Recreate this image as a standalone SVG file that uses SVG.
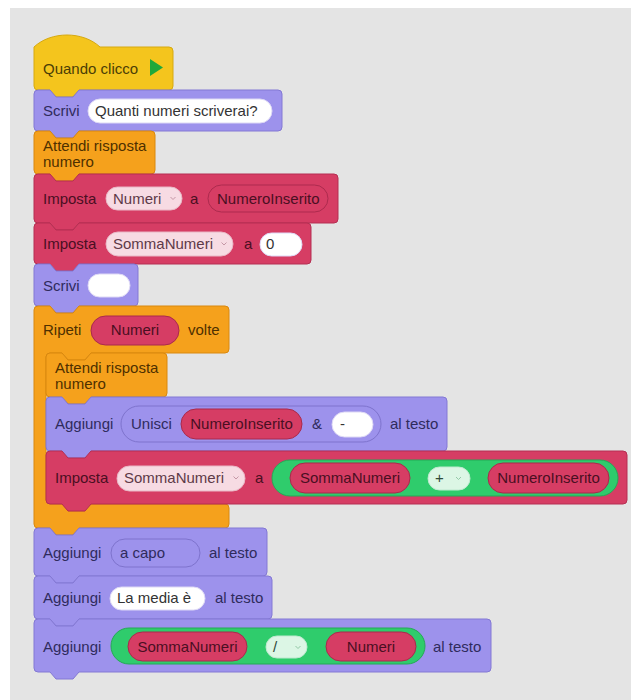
<svg xmlns="http://www.w3.org/2000/svg" width="631" height="700" viewBox="0 0 631 700">
  <style>
    text { font-family: "Liberation Sans", Arial, sans-serif; font-size: 15px; }
    .ev { fill: #f4c51d; stroke: #d6a910; stroke-width: 1; stroke-linejoin: round; }
    .lk { fill: #9d92ec; stroke: #8378d4; stroke-width: 1; stroke-linejoin: round; }
    .ct { fill: #f5a11c; stroke: #d9880e; stroke-width: 1; stroke-linejoin: round; }
    .vr { fill: #d63d64; stroke: #b52f52; stroke-width: 1; stroke-linejoin: round; }
    .op { fill: #2fcc6c; stroke: #25a956; stroke-width: 1; }
    .t-ev { fill: #4b3e06; }
    .t-lk { fill: #2f2b5c; }
    .t-ct { fill: #4e3000; }
    .t-vr { fill: #4a0f22; }
    .t-in { fill: #333333; }
    .t-dd { fill: #5e3a48; }
    .t-gd { fill: #2e4a38; }
    .inp { fill: #ffffff; stroke: #ddd8f5; stroke-width: 1; }
    .rep { fill: #d63d64; stroke: #a92a4c; stroke-width: 1; }
    .ring-lk { fill: #9d92ec; stroke: #7e73cd; stroke-width: 1; }
    .ring-vr { fill: #d63d64; stroke: #ad2b4e; stroke-width: 1; }
    .dd-vr { fill: #f7dbe3; stroke: #e9b7c5; stroke-width: 1; }
    .dd-op { fill: #dcf6e5; stroke: #bfe9cf; stroke-width: 1; }
    .chev-vr { fill: none; stroke: #c597a6; stroke-width: 1; }
    .chev-op { fill: none; stroke: #93c9a6; stroke-width: 1; }
  </style>

  <!-- workspace -->
  <rect x="10" y="8" width="621" height="692" fill="#e4e4e4"/>

  <!-- when flag clicked -->
  <g id="quando-clicco">
    <path class="ev" d="M34,47 C51,31 83,31 100,47 L169,47 Q173,47 173,51 L173,86 Q173,90 169,90 L79,90 L73,97 L56,97 L50,90 L38,90 Q34,90 34,86 Z"/>
    <text class="t-ev" x="43" y="74">Quando clicco</text>
    <path d="M150,59 L163,67.5 L150,76 Z" fill="#1fa83a"/>
  </g>

  <!-- say question -->
  <g id="scrivi-domanda">
    <path class="lk" d="M34,94 Q34,90 38,90 L50,90 L56,97 L73,97 L79,90 L278,90 Q282,90 282,94 L282,127 Q282,131 278,131 L79,131 L73,138 L56,138 L50,131 L38,131 Q34,131 34,127 Z"/>
    <text class="t-lk" x="43" y="116">Scrivi</text>
    <rect class="inp" x="88" y="99" width="184" height="24" rx="12"/>
    <text class="t-in" x="95" y="116">Quanti numeri scriverai?</text>
  </g>

  <!-- ask for number -->
  <g id="attendi-1">
    <path class="ct" d="M34,135 Q34,131 38,131 L50,131 L56,138 L73,138 L79,131 L151,131 Q155,131 155,135 L155,170 Q155,174 151,174 L79,174 L73,181 L56,181 L50,174 L38,174 Q34,174 34,170 Z"/>
    <text class="t-ct" x="43" y="151">Attendi risposta</text>
    <text class="t-ct" x="43" y="167">numero</text>
  </g>

  <!-- set Numeri -->
  <g id="imposta-numeri">
    <path class="vr" d="M34,178 Q34,174 38,174 L50,174 L56,181 L73,181 L79,174 L334,174 Q338,174 338,178 L338,219 Q338,223 334,223 L79,223 L73,230 L56,230 L50,223 L38,223 Q34,223 34,219 Z"/>
    <text class="t-vr" x="43" y="204">Imposta</text>
    <rect class="dd-vr" x="106" y="187" width="76" height="23" rx="11.5"/>
    <text class="t-dd" x="113" y="204">Numeri</text>
    <path class="chev-vr" d="M170.5,197 L173,199.5 L175.5,197"/>
    <text class="t-vr" x="190" y="204">a</text>
    <rect class="ring-vr" x="208" y="185" width="120" height="27" rx="13.5"/>
    <text class="t-vr" x="217" y="204">NumeroInserito</text>
  </g>

  <!-- set SommaNumeri to 0 -->
  <g id="imposta-somma-0">
    <path class="vr" d="M34,227 Q34,223 38,223 L50,223 L56,230 L73,230 L79,223 L307,223 Q311,223 311,227 L311,260 Q311,264 307,264 L79,264 L73,271 L56,271 L50,264 L38,264 Q34,264 34,260 Z"/>
    <text class="t-vr" x="43" y="249">Imposta</text>
    <rect class="dd-vr" x="106" y="232" width="127" height="24" rx="12"/>
    <text class="t-dd" x="113" y="249">SommaNumeri</text>
    <path class="chev-vr" d="M221.5,242.5 L224,245 L226.5,242.5"/>
    <text class="t-vr" x="244" y="249">a</text>
    <rect class="inp" x="260" y="233" width="42" height="23" rx="11.5"/>
    <text class="t-in" x="266" y="249">0</text>
  </g>

  <!-- say empty -->
  <g id="scrivi-vuoto">
    <path class="lk" d="M34,268 Q34,264 38,264 L50,264 L56,271 L73,271 L79,264 L134,264 Q138,264 138,268 L138,302 Q138,306 134,306 L79,306 L73,313 L56,313 L50,306 L38,306 Q34,306 34,302 Z"/>
    <text class="t-lk" x="43" y="291">Scrivi</text>
    <rect class="inp" x="88" y="274" width="42" height="23" rx="11.5"/>
  </g>

  <!-- repeat Numeri times -->
  <g id="ripeti">
    <path class="ct" d="M34,310 Q34,306 38,306 L50,306 L56,313 L73,313 L79,306 L225,306 Q229,306 229,310 L229,349 Q229,353 225,353 L91,353 L85,360 L68,360 L62,353 L50,353 Q46,353 46,357 L46,500 Q46,504 50,504 L62,504 L68,511 L85,511 L91,504 L225,504 Q229,504 229,508 L229,524 Q229,528 225,528 L79,528 L73,535 L56,535 L50,528 L38,528 Q34,528 34,524 Z"/>
    <text class="t-ct" x="43" y="335">Ripeti</text>
    <rect class="rep" x="91" y="316" width="88" height="29" rx="14.5"/>
    <text class="t-vr" x="135" y="335" text-anchor="middle">Numeri</text>
    <text class="t-ct" x="188" y="335">volte</text>
  </g>

  <!-- ask for number (inside loop) -->
  <g id="attendi-2">
    <path class="ct" d="M46,357 Q46,353 50,353 L62,353 L68,360 L85,360 L91,353 L163,353 Q167,353 167,357 L167,393 Q167,397 163,397 L91,397 L85,404 L68,404 L62,397 L50,397 Q46,397 46,393 Z"/>
    <text class="t-ct" x="55" y="373">Attendi risposta</text>
    <text class="t-ct" x="55" y="389">numero</text>
  </g>

  <!-- append join -->
  <g id="aggiungi-unisci">
    <path class="lk" d="M46,401 Q46,397 50,397 L62,397 L68,404 L85,404 L91,397 L443,397 Q447,397 447,401 L447,447 Q447,451 443,451 L91,451 L85,458 L68,458 L62,451 L50,451 Q46,451 46,447 Z"/>
    <text class="t-lk" x="55" y="429">Aggiungi</text>
    <rect class="ring-lk" x="121" y="406" width="260" height="36" rx="18"/>
    <text class="t-lk" x="131" y="429">Unisci</text>
    <rect class="rep" x="181" y="409" width="121" height="30" rx="15"/>
    <text class="t-vr" x="241.5" y="429" text-anchor="middle">NumeroInserito</text>
    <text class="t-lk" x="312" y="429">&amp;</text>
    <rect class="inp" x="332" y="412" width="41" height="25" rx="12.5"/>
    <text class="t-in" x="340" y="429">-</text>
    <text class="t-lk" x="390" y="429">al testo</text>
  </g>

  <!-- set SommaNumeri to sum -->
  <g id="imposta-somma-piu">
    <path class="vr" d="M46,455 Q46,451 50,451 L62,451 L68,458 L85,458 L91,451 L623,451 Q627,451 627,455 L627,500 Q627,504 623,504 L91,504 L85,511 L68,511 L62,504 L50,504 Q46,504 46,500 Z"/>
    <text class="t-vr" x="55" y="483">Imposta</text>
    <rect class="dd-vr" x="117" y="466" width="128" height="25" rx="12.5"/>
    <text class="t-dd" x="124" y="483">SommaNumeri</text>
    <path class="chev-vr" d="M233.5,476.5 L236,479 L238.5,476.5"/>
    <text class="t-vr" x="255" y="483">a</text>
    <rect class="op" x="272" y="460" width="346" height="36" rx="18"/>
    <rect class="rep" x="290" y="463" width="120" height="30" rx="15"/>
    <text class="t-vr" x="350" y="483" text-anchor="middle">SommaNumeri</text>
    <rect class="dd-op" x="428" y="467" width="42" height="23" rx="11.5"/>
    <text class="t-gd" x="435" y="483">+</text>
    <path class="chev-op" d="M456,477 L458.5,479.5 L461,477"/>
    <rect class="rep" x="488" y="463" width="121" height="30" rx="15"/>
    <text class="t-vr" x="548.5" y="483" text-anchor="middle">NumeroInserito</text>
  </g>

  <!-- append newline -->
  <g id="aggiungi-a-capo">
    <path class="lk" d="M34,532 Q34,528 38,528 L50,528 L56,535 L73,535 L79,528 L263,528 Q267,528 267,532 L267,572 Q267,576 263,576 L79,576 L73,583 L56,583 L50,576 L38,576 Q34,576 34,572 Z"/>
    <text class="t-lk" x="43" y="558">Aggiungi</text>
    <rect class="ring-lk" x="111" y="539" width="89" height="28" rx="14"/>
    <text class="t-lk" x="120" y="558">a capo</text>
    <text class="t-lk" x="209" y="558">al testo</text>
  </g>

  <!-- append label -->
  <g id="aggiungi-la-media">
    <path class="lk" d="M34,580 Q34,576 38,576 L50,576 L56,583 L73,583 L79,576 L268,576 Q272,576 272,580 L272,615 Q272,619 268,619 L79,619 L73,626 L56,626 L50,619 L38,619 Q34,619 34,615 Z"/>
    <text class="t-lk" x="43" y="603">Aggiungi</text>
    <rect class="inp" x="110" y="587" width="95" height="23" rx="11.5"/>
    <text class="t-in" x="117" y="603">La media è</text>
    <text class="t-lk" x="215" y="603">al testo</text>
  </g>

  <!-- append average -->
  <g id="aggiungi-media">
    <path class="lk" d="M34,623 Q34,619 38,619 L50,619 L56,626 L73,626 L79,619 L487,619 Q491,619 491,623 L491,668 Q491,672 487,672 L79,672 L73,679 L56,679 L50,672 L38,672 Q34,672 34,668 Z"/>
    <text class="t-lk" x="43" y="652">Aggiungi</text>
    <rect class="op" x="111" y="628" width="314" height="36" rx="18"/>
    <rect class="rep" x="128" y="632" width="119" height="29" rx="14.5"/>
    <text class="t-vr" x="187.5" y="652" text-anchor="middle">SommaNumeri</text>
    <rect class="dd-op" x="266" y="636" width="41" height="22" rx="11"/>
    <text class="t-gd" x="273" y="652">/</text>
    <path class="chev-op" d="M295.5,646 L298,648.5 L300.5,646"/>
    <rect class="rep" x="326" y="632" width="90" height="29" rx="14.5"/>
    <text class="t-vr" x="371" y="652" text-anchor="middle">Numeri</text>
    <text class="t-lk" x="433" y="652">al testo</text>
  </g>
</svg>
